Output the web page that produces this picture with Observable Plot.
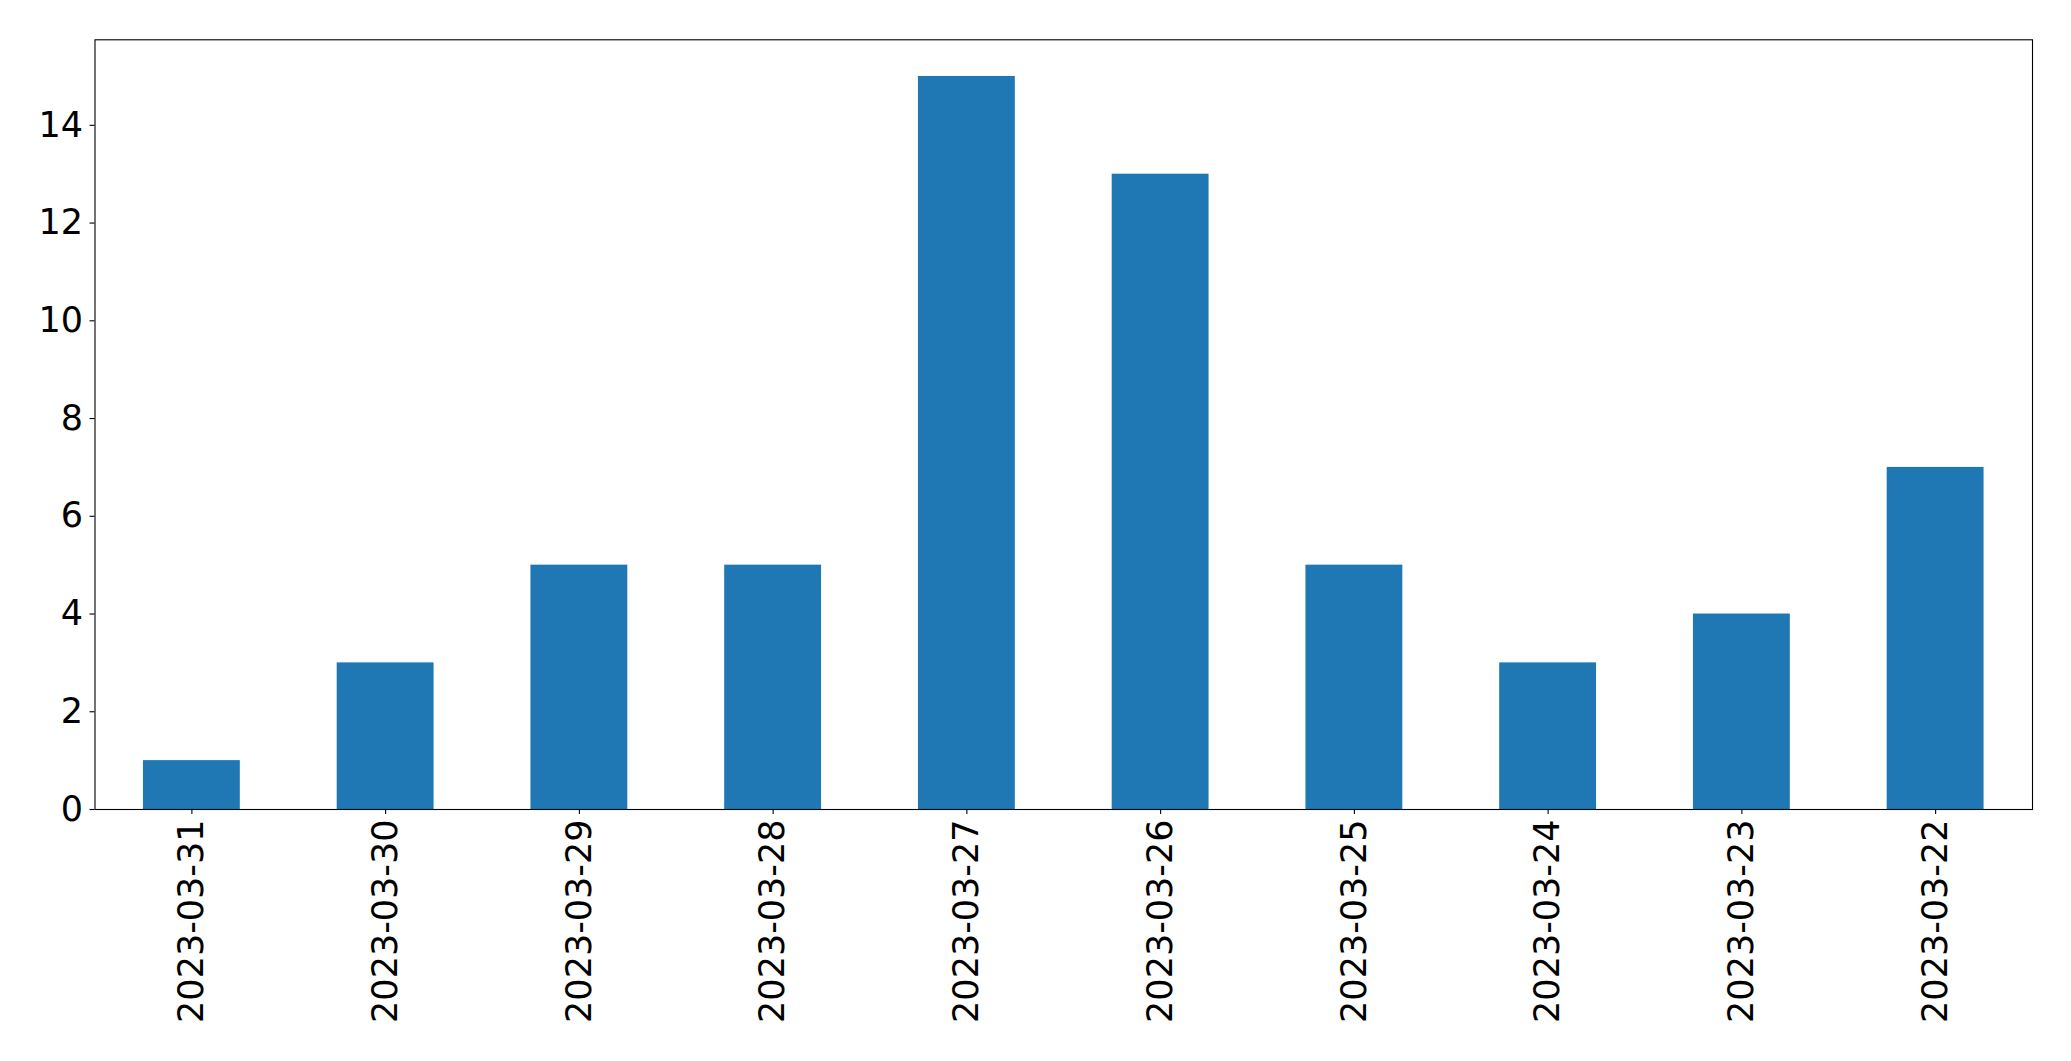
<!DOCTYPE html>
<html>
<head>
<meta charset="utf-8">
<script src="https://cdn.jsdelivr.net/npm/d3@7"></script>
<script src="https://cdn.jsdelivr.net/npm/@observablehq/plot@0.6"></script>
<style>
  html, body { margin: 0; padding: 0; background: #fff; }
  #chart svg { display: block; }
</style>
</head>
<body>
<div id="chart"></div>
<script>
const dates = ["2023-03-31","2023-03-30","2023-03-29","2023-03-28","2023-03-27","2023-03-26","2023-03-25","2023-03-24","2023-03-23","2023-03-22"];
const counts = [1, 3, 5, 5, 15, 13, 5, 3, 4, 7];
const yTicks = [0, 2, 4, 6, 8, 10, 12, 14];

const data = dates.map((d, i) => ({date: d, count: counts[i]}));

const chart = Plot.plot({
  width: 2071,
  height: 1061,
  marginLeft: 94.5,
  marginTop: 39.3,
  marginRight: 39,
  marginBottom: 252,
  style: {fontFamily: "DejaVu Sans", background: "#fff", color: "#000"},
  x: {domain: dates, paddingInner: 0.5, paddingOuter: 0.25, round: false, label: null},
  y: {domain: [0, 15.75], label: null},
  marks: [
    Plot.barY(data, {x: "date", y: "count", fill: "#1f77b4"}),
    Plot.frame({stroke: "#000", strokeWidth: 1.1}),
    Plot.axisX({tickRotate: -90, fontSize: 35, tickSize: 5, tickPadding: 5, strokeWidth: 1.1, label: null}),
    Plot.axisY({ticks: yTicks, fontSize: 35, tickSize: 5, tickPadding: 7, strokeWidth: 1.1, label: null, tickFormat: d3.format("d")})
  ]
});
document.getElementById("chart").appendChild(chart);
</script>
</body>
</html>
